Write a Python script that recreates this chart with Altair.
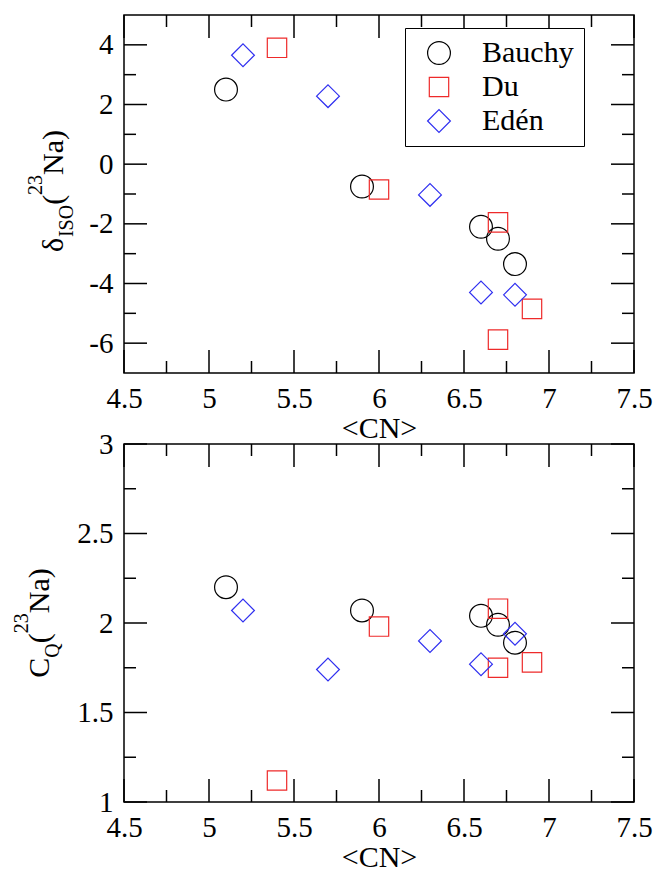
import altair as alt
import pandas as pd

# ---------------- data ----------------
series_names = ["Bauchy", "Du", "Edén"]
series_colors = ["#000000", "#ee2a2a", "#3030f0"]

cn_bauchy = [5.1, 5.9, 6.6, 6.7, 6.8]
iso_bauchy = [2.5, -0.75, -2.1, -2.5, -3.35]
cq_bauchy = [2.2, 2.07, 2.04, 1.99, 1.89]

cn_du = [5.4, 6.0, 6.7, 6.7, 6.9]
iso_du = [3.9, -0.85, -1.95, -5.88, -4.85]
cq_du = [1.12, 1.98, 2.08, 1.75, 1.78]

cn_eden = [5.2, 5.7, 6.3, 6.6, 6.8]
iso_eden = [3.65, 2.28, -1.03, -4.3, -4.38]
cq_eden = [2.07, 1.74, 1.9, 1.77, 1.94]

x_ticks_major = [4.5, 5.0, 5.5, 6.0, 6.5, 7.0, 7.5]
x_ticks_minor = [4.75, 5.25, 5.75, 6.25, 6.75, 7.25]
iso_ticks_major = [-6, -4, -2, 0, 2, 4]
iso_ticks_minor = [-5, -3, -1, 1, 3]
cq_ticks_major = [1.0, 1.5, 2.0, 2.5, 3.0]
cq_ticks_minor = [1.25, 1.75, 2.25, 2.75]

# ---------------- styling ----------------
W, H = 510, 358
FONT = "Liberation Serif"
MAJOR, MINOR = 23, 12
SQUARE = "M-0.85,-0.85H0.85V0.85H-0.85Z"

rows = []
for name, cns, isos, cqs in [("Bauchy", cn_bauchy, iso_bauchy, cq_bauchy),
                             ("Du", cn_du, iso_du, cq_du),
                             ("Edén", cn_eden, iso_eden, cq_eden)]:
    for a, b, c in zip(cns, isos, cqs):
        rows.append({"series": name, "cn": a, "iso": b, "cq": c})
df = pd.DataFrame(rows)
one = pd.DataFrame({"k": [0]})

color_scale = alt.Scale(domain=series_names, range=series_colors)
shape_scale = alt.Scale(domain=series_names, range=["circle", SQUARE, "diamond"])
xscale = alt.Scale(domain=[4.5, 7.5], nice=False, zero=False)

# approximate advance widths (em) for Liberation Serif
CW = {"δ": 0.5, "I": 0.333, "S": 0.556, "O": 0.722, "(": 0.333, ")": 0.333,
      "2": 0.5, "3": 0.5, "N": 0.722, "a": 0.444, "C": 0.667, "Q": 0.722}


def title_layers(parts, base_main, center_y, main_fs=30, small_fs=20):
    widths = []
    for txt, kind in parts:
        fs = main_fs if kind == "main" else small_fs
        widths.append(sum(CW.get(ch, 0.5) for ch in txt) * fs)
    y = center_y + sum(widths) / 2
    layers = []
    for (txt, kind), w in zip(parts, widths):
        fs = main_fs if kind == "main" else small_fs
        bx = base_main + {"main": 0, "sub": 10, "sup": -21}[kind]
        layers.append(
            alt.Chart(one).mark_text(angle=270, align="left", baseline="alphabetic",
                                     font=FONT, fontSize=fs, color="black")
            .encode(x=alt.value(bx), y=alt.value(y), text=alt.value(txt))
        )
        y -= w
    return layers


def panel(ycol, ydomain, ymaj, ymin, show_legend, parts, base_main, center_y, anchor):
    yscale = alt.Scale(domain=ydomain, nice=False, zero=False)
    common = dict(ticks=False, domain=False, grid=False, labelExpr="'' + datum.value",
                  labelOverlap=False, labelFont=FONT, labelFontSize=29, labelColor="black")
    xaxis = alt.Axis(values=x_ticks_major, title="<CN>", labelFlush=False, labelPadding=11,
                     titleFont=FONT, titleFontSize=30, titleFontWeight="normal",
                     titleColor="black", titlePadding=0, **common)
    yaxis = alt.Axis(values=ymaj, title="", labelPadding=11, **common)
    if show_legend:
        leg = alt.Legend(title=None, orient="none", legendX=281, legendY=13, padding=10,
                         symbolOffset=9, labelOffset=28, rowPadding=4, labelFont=FONT,
                         labelFontSize=30, labelColor="black", symbolSize=520,
                         symbolStrokeWidth=1.2, strokeColor="black", fillColor="white",
                         labelLimit=0)
    else:
        leg = None
    X = lambda f: alt.X(f"{f}:Q", scale=xscale, axis=xaxis, title="<CN>")
    Y = lambda f: alt.Y(f"{f}:Q", scale=yscale, axis=yaxis, title="")
    points = alt.Chart(df).mark_point(filled=False, size=520, strokeWidth=1.2, opacity=1).encode(
        x=X("cn"),
        y=Y(ycol),
        color=alt.Color("series:N", scale=color_scale, legend=leg),
        shape=alt.Shape("series:N", scale=shape_scale, legend=leg),
    )
    layers = [points]
    for vals, L in [(x_ticks_major, MAJOR), (x_ticks_minor, MINOR)]:
        d = pd.DataFrame({"cn": vals})
        base = alt.Chart(d).mark_rule(color="black", strokeWidth=1.5)
        layers.append(base.encode(x=X("cn"), y=alt.value(H), y2=alt.value(H - L)))
        layers.append(base.encode(x=X("cn"), y=alt.value(0), y2=alt.value(L)))
    for vals, L in [(ymaj, MAJOR), (ymin, MINOR)]:
        d = pd.DataFrame({ycol: vals})
        base = alt.Chart(d).mark_rule(color="black", strokeWidth=1.5)
        layers.append(base.encode(y=Y(ycol), x=alt.value(0), x2=alt.value(L)))
        layers.append(base.encode(y=Y(ycol), x=alt.value(W), x2=alt.value(W - L)))
    layers += title_layers(parts, base_main, center_y)
    if anchor:
        layers.append(alt.Chart(one).mark_rule(strokeOpacity=0, opacity=0).encode(
            x=alt.value(-123), x2=alt.value(-123), y=alt.value(-14), y2=alt.value(-14)))
    return alt.layer(*layers).properties(width=W, height=H)


top = panel("iso", [-7, 5], iso_ticks_major, iso_ticks_minor, True,
            [("δ", "main"), ("ISO", "sub"), ("(", "main"), ("23", "sup"), ("Na)", "main")],
            -61, 176, True)
bottom = panel("cq", [1, 3], cq_ticks_major, cq_ticks_minor, False,
               [("C", "main"), ("Q", "sub"), ("(", "main"), ("23", "sup"), ("Na)", "main")],
               -75, 179, False)

chart = (
    alt.vconcat(top, bottom, spacing=71, bounds="flush")
    .resolve_scale(color="independent", shape="independent")
    .configure_view(stroke="black", strokeWidth=1.5)
    .properties(padding=0, background="white")
)

chart.save("out.html", embed_options={"renderer": "svg", "actions": False})
